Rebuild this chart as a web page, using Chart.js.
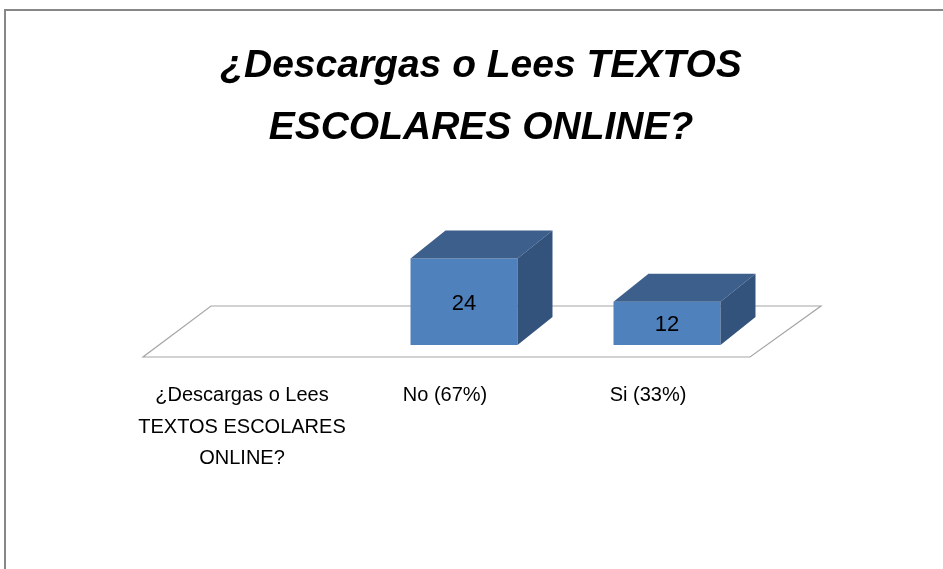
<!DOCTYPE html>
<html>
<head>
<meta charset="utf-8">
<script src="https://cdn.jsdelivr.net/npm/chart.js@4.4.1/dist/chart.umd.min.js"></script>
<style>
html,body{margin:0;padding:0;background:#fff;}
canvas{display:block;}
</style>
</head>
<body>
<canvas id="c" width="943" height="569"></canvas>
<script>
const titleLines = ['¿Descargas o Lees TEXTOS', 'ESCOLARES ONLINE?'];
const categories = [['¿Descargas o Lees', 'TEXTOS ESCOLARES', 'ONLINE?'], 'No (67%)', 'Si (33%)'];
const values = [null, 24, 12];
const yMax = 30;

const DEPTH_X = 35, DEPTH_Y = 28;

const threeD = {
  id: 'threeD',
  beforeDraw(chart) {
    const ctx = chart.ctx;
    ctx.save();
    ctx.fillStyle = '#fff';
    ctx.fillRect(0, 0, chart.width, chart.height);
    ctx.strokeStyle = '#878787';
    ctx.lineWidth = 2;
    ctx.beginPath();
    ctx.moveTo(5, chart.height + 5);
    ctx.lineTo(5, 10);
    ctx.lineTo(chart.width + 5, 10);
    ctx.stroke();
    ctx.restore();
  },
  beforeDatasetsDraw(chart) {
    const ctx = chart.ctx;
    const a = chart.chartArea;
    const zero = chart.scales.y.getPixelForValue(0);
    ctx.save();
    ctx.strokeStyle = '#a6a6a6';
    ctx.lineWidth = 1.2;
    ctx.beginPath();
    ctx.moveTo(a.left - 16.5, zero + 12);
    ctx.lineTo(a.right - 18.5, zero + 12);
    ctx.lineTo(a.right + 52.5, zero - 39);
    ctx.lineTo(a.left + 51.5, zero - 39);
    ctx.closePath();
    ctx.stroke();
    ctx.restore();
  },
  afterDatasetsDraw(chart) {
    const ctx = chart.ctx;
    const meta = chart.getDatasetMeta(0);
    ctx.save();
    meta.data.forEach((bar, i) => {
      if (values[i] == null) return;
      const p = bar.getProps(['x', 'y', 'base', 'width'], true);
      const x1 = p.x - p.width / 2, x2 = p.x + p.width / 2;
      const top = p.y, base = p.base;
      ctx.fillStyle = '#3d5f8c';
      ctx.beginPath();
      ctx.moveTo(x1, top);
      ctx.lineTo(x1 + DEPTH_X, top - DEPTH_Y);
      ctx.lineTo(x2 + DEPTH_X, top - DEPTH_Y);
      ctx.lineTo(x2, top);
      ctx.closePath();
      ctx.fill();
      ctx.fillStyle = '#33527c';
      ctx.beginPath();
      ctx.moveTo(x2, top);
      ctx.lineTo(x2 + DEPTH_X, top - DEPTH_Y);
      ctx.lineTo(x2 + DEPTH_X, base - DEPTH_Y);
      ctx.lineTo(x2, base);
      ctx.closePath();
      ctx.fill();
      ctx.fillStyle = '#000';
      ctx.font = '22px "Liberation Sans", Arial, sans-serif';
      ctx.textAlign = 'center';
      ctx.textBaseline = 'middle';
      ctx.fillText(String(values[i]), p.x, (top + base) / 2 + 2);
    });
    ctx.restore();
  }
};

new Chart(document.getElementById('c'), {
  type: 'bar',
  data: {
    labels: categories,
    datasets: [{
      data: values,
      backgroundColor: '#4f81bd',
      borderWidth: 0,
      barPercentage: 0.527,
      categoryPercentage: 1
    }]
  },
  options: {
    responsive: false,
    devicePixelRatio: 1,
    animation: false,
    layout: { padding: { top: 0, left: 19, right: 0, bottom: 0 } },
    plugins: {
      legend: { display: false },
      tooltip: { enabled: false },
      title: {
        display: true,
        text: titleLines,
        color: '#000',
        font: { family: '"Liberation Sans", Arial, sans-serif', size: 39, weight: 'bold', style: 'italic', lineHeight: 1.59 },
        padding: { top: 35.5, bottom: 77.5 }
      }
    },
    scales: {
      x: {
        grid: { display: false },
        border: { display: false },
        ticks: {
          color: '#000',
          maxRotation: 0,
          autoSkip: false,
          padding: 27,
          labelOffset: -19,
          font: { family: '"Liberation Sans", Arial, sans-serif', size: 20, lineHeight: 1.575 }
        },
        afterFit(s) { s.height = 224; }
      },
      y: {
        min: 0, max: yMax,
        grid: { display: false },
        border: { display: false },
        ticks: { display: false },
        afterFit(s) { s.width = 140.5; }
      },
      y2: {
        position: 'right',
        min: 0, max: yMax,
        grid: { display: false },
        border: { display: false },
        ticks: { display: false },
        afterFit(s) { s.width = 174.5; }
      }
    }
  },
  plugins: [threeD]
});
</script>
</body>
</html>
